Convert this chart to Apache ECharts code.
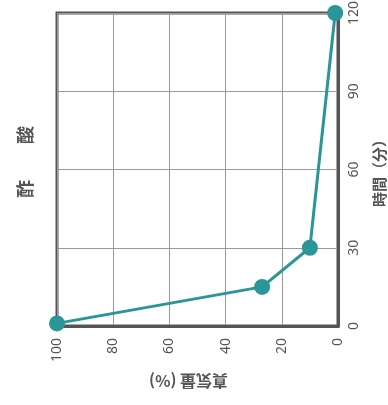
<!DOCTYPE html>
<html>
<head>
<meta charset="utf-8">
<script src="https://cdn.jsdelivr.net/npm/echarts@6/dist/echarts.min.js"></script>
<style>
  html, body { margin: 0; padding: 0; background: #fff; }
  #chart { width: 388px; height: 405px; }
</style>
</head>
<body>
<div id="chart"></div>
<script>
// 残気量(%) と 時間(分)
const gasPercent = [100, 27, 10, 1];
const timeMin = [1, 15, 30, 120];
const xTicks = [0, 20, 40, 60, 80, 100];
const yTicks = [0, 30, 60, 90, 120];

const lineColor = "#2a9698";
const axisColor = "#555";

const chart = echarts.init(document.getElementById("chart"));

const option = {
  animation: false,
  textStyle: { fontFamily: "Noto Sans, Noto Sans CJK JP" },
  grid: {
    left: 57,
    right: 50,
    top: 13,
    bottom: 79,
    containLabel: false,
    outerBoundsMode: "none",
    show: true,
    borderColor: axisColor,
    borderWidth: 3,
  },
  xAxis: {
    type: "value",
    inverse: true,
    min: xTicks[0],
    max: xTicks[xTicks.length - 1],
    interval: 20,
    position: "bottom",
    name: "真気量 (%)",
    nameLocation: "middle",
    nameRotate: 180,
    nameGap: 47,
    nameTextStyle: {
      color: axisColor, fontSize: 16, fontWeight: "bold",
      fontFamily: "Noto Sans CJK JP", padding: [0, 0, 0, 18],
    },
    axisLine: { show: true, lineStyle: { color: axisColor, width: 3 } },
    axisTick: { show: false },
    axisLabel: { rotate: 90, color: axisColor, fontSize: 14, margin: 12 },
    splitLine: { show: true, lineStyle: { color: "#999", width: 1 } },
  },
  yAxis: {
    type: "value",
    position: "right",
    min: yTicks[0],
    max: yTicks[yTicks.length - 1],
    interval: 30,
    name: "時間（分）",
    nameLocation: "middle",
    nameRotate: 90,
    nameGap: 34,
    nameTextStyle: { color: axisColor, fontSize: 15, fontWeight: "bold", fontFamily: "Noto Sans CJK JP" },
    axisLine: { show: true, lineStyle: { color: axisColor, width: 3 } },
    axisTick: { show: false },
    axisLabel: { rotate: 90, color: axisColor, fontSize: 14, margin: 9 },
    splitLine: { show: true, lineStyle: { color: "#999", width: 1 } },
  },
  graphic: [
    {
      type: "text",
      x: 25,
      y: 162,
      rotation: Math.PI / 2,
      style: {
        text: "酢　　酸",
        fill: axisColor,
        font: "bold 18px 'Noto Sans CJK JP'",
        textAlign: "center",
        textVerticalAlign: "middle",
      },
    },
  ],
  series: [
    {
      type: "line",
      data: gasPercent.map((p, i) => [p, timeMin[i]]),
      symbol: "circle",
      symbolSize: 16,
      lineStyle: { color: lineColor, width: 3 },
      itemStyle: { color: lineColor },
    },
  ],
};

chart.setOption(option);
</script>
</body>
</html>
